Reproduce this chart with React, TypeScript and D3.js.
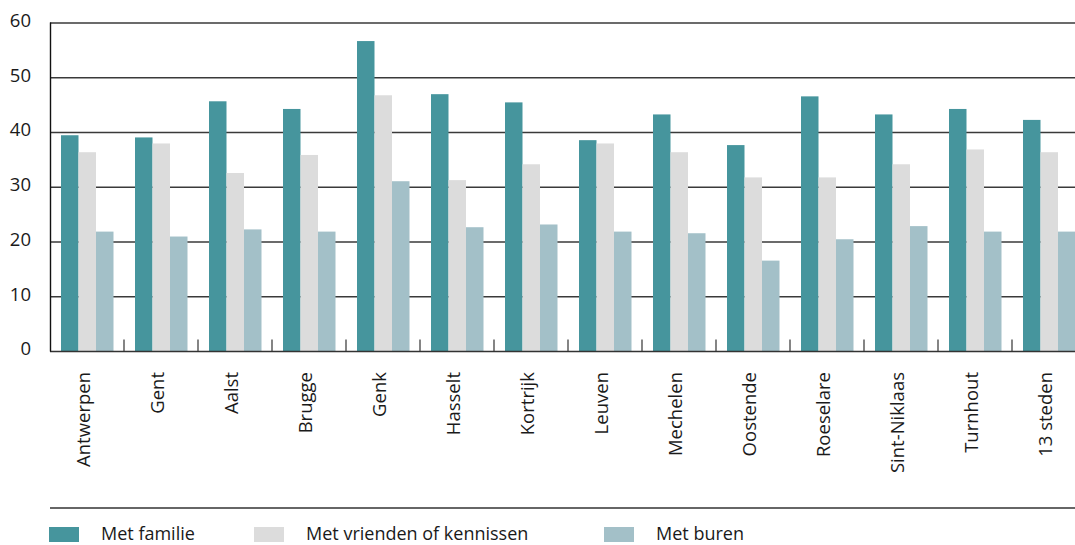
import React, { useRef, useEffect } from 'react';
import * as d3 from 'd3';

const categories = [
  'Antwerpen', 'Gent', 'Aalst', 'Brugge', 'Genk', 'Hasselt', 'Kortrijk',
  'Leuven', 'Mechelen', 'Oostende', 'Roeselare', 'Sint-Niklaas', 'Turnhout', '13 steden',
];
const seriesNames = ['Met familie', 'Met vrienden of kennissen', 'Met buren'];
const familie = [39.5, 39.1, 45.7, 44.3, 56.7, 47.0, 45.5, 38.6, 43.3, 37.7, 46.6, 43.3, 44.3, 42.3];
const vrienden = [36.4, 38.0, 32.6, 35.9, 46.8, 31.3, 34.2, 38.0, 36.4, 31.8, 31.8, 34.2, 36.9, 36.4];
const buren = [21.9, 21.0, 22.3, 21.9, 31.1, 22.7, 23.2, 21.9, 21.6, 16.6, 20.5, 22.9, 21.9, 21.9];
const yTicks = [0, 10, 20, 30, 40, 50, 60];
const colors = ['#46959d', '#dcdcdc', '#a3c0c8'];

export default function App() {
  const ref = useRef<SVGSVGElement>(null);

  useEffect(() => {
    const svg = d3.select(ref.current);
    svg.selectAll('*').remove();

    const width = 1075;
    const height = 545;
    const font = '"Open Sans", "Noto Sans", sans-serif';
    const textColor = '#1a1a1a';
    const values = [familie, vrienden, buren];

    const x = d3.scaleBand().domain(categories).range([50, 1086]).padding(0);
    const x1 = d3.scaleBand().domain(seriesNames).range([11, 63.5]).padding(0);
    const y = d3.scaleLinear().domain([0, 60]).range([351.5, 23]);

    svg.attr('viewBox', `0 0 ${width} ${height}`);

    // Gridlines
    svg
      .append('g')
      .selectAll('line')
      .data(yTicks.filter(t => t > 0))
      .join('line')
      .attr('x1', 50)
      .attr('x2', width)
      .attr('y1', d => y(d))
      .attr('y2', d => y(d))
      .attr('stroke', '#3a3a3a')
      .attr('stroke-width', 1.4);

    // Y tick labels
    svg
      .append('g')
      .selectAll('text')
      .data(yTicks)
      .join('text')
      .attr('x', 31)
      .attr('y', d => y(d) - 1)
      .attr('text-anchor', 'end')
      .attr('dominant-baseline', 'middle')
      .attr('font-family', font)
      .attr('font-size', 18.5)
      .attr('fill', textColor)
      .text(d => d);

    // Bars
    const groups = svg
      .append('g')
      .selectAll('g')
      .data(categories)
      .join('g')
      .attr('transform', d => `translate(${x(d)},0)`);

    groups
      .selectAll('rect')
      .data((_, i) => seriesNames.map((s, k) => ({ s, k, v: values[k][i] })))
      .join('rect')
      .attr('x', d => x1(d.s)!)
      .attr('width', x1.bandwidth())
      .attr('y', d => y(d.v))
      .attr('height', d => y(0) - y(d.v))
      .attr('fill', d => colors[d.k]);

    // Baseline, left axis and group ticks
    svg
      .append('line')
      .attr('x1', 50)
      .attr('x2', width)
      .attr('y1', y(0))
      .attr('y2', y(0))
      .attr('stroke', '#333')
      .attr('stroke-width', 1.4);
    svg
      .append('line')
      .attr('x1', 50.5)
      .attr('x2', 50.5)
      .attr('y1', y(60) - 0.5)
      .attr('y2', y(0))
      .attr('stroke', '#111')
      .attr('stroke-width', 1.4);
    svg
      .append('g')
      .selectAll('line')
      .data(categories.slice(1))
      .join('line')
      .attr('x1', d => x(d)!)
      .attr('x2', d => x(d)!)
      .attr('y1', y(0) - 12)
      .attr('y2', y(0))
      .attr('stroke', '#333')
      .attr('stroke-width', 1.2);

    // Category labels
    svg
      .append('g')
      .selectAll('text')
      .data(categories)
      .join('text')
      .attr('transform', d => `translate(${x(d)! + x.bandwidth() / 2 + 3},372) rotate(-90)`)
      .attr('text-anchor', 'end')
      .attr('font-family', font)
      .attr('font-size', 18.5)
      .attr('fill', textColor)
      .text(d => d);

    // Legend
    svg
      .append('line')
      .attr('x1', 50)
      .attr('x2', width)
      .attr('y1', 508)
      .attr('y2', 508)
      .attr('stroke', '#333')
      .attr('stroke-width', 1.4);

    const legendX = [49, 254, 604];
    const legend = svg
      .append('g')
      .selectAll('g')
      .data(seriesNames)
      .join('g')
      .attr('transform', (_, i) => `translate(${legendX[i]},527)`);
    legend
      .append('rect')
      .attr('width', 30)
      .attr('height', 15)
      .attr('fill', (_, i) => colors[i]);
    legend
      .append('text')
      .attr('x', 52)
      .attr('y', 13)
      .attr('font-family', font)
      .attr('font-size', 18)
      .attr('fill', textColor)
      .text(d => d);
  }, []);

  return (
    <svg
      ref={ref}
      width={1075}
      height={545}
      style={{ position: 'absolute', left: 0, top: 0, display: 'block' }}
    />
  );
}
